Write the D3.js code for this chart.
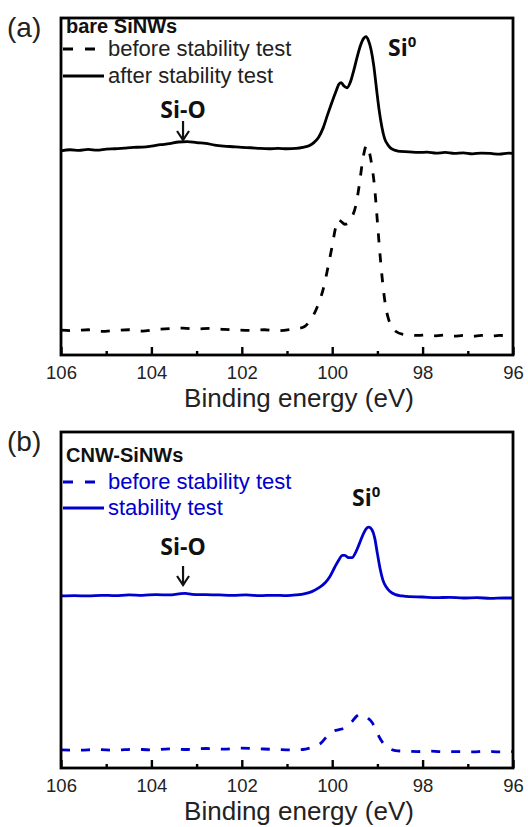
<!DOCTYPE html>
<html>
<head>
<meta charset="utf-8">
<script src="https://cdn.jsdelivr.net/npm/d3@7"></script>
<style>
  body { margin: 0; background: #fff; }
  svg { display: block; }
</style>
</head>
<body>
<div id="chart"></div>
<script>
// ---- data (binding energy eV, intensity a.u.) ----
const majorTicks = [106, 104, 102, 100, 98, 96];
const minorTicks = [105, 103, 101, 99, 97];

// (a) bare SiNWs
const bareAfter = [[106.0,60.6],[105.8,60.9],[105.6,60.7],[105.4,61.0],[105.2,60.8],[105.0,61.1],[104.8,61.2],[104.6,61.4],[104.4,61.6],[104.2,61.7],[104.0,62.0],[103.8,62.4],[103.6,62.7],[103.4,63.2],[103.2,63.3],[103.0,63.0],[102.8,62.8],[102.6,62.3],[102.4,62.0],[102.2,61.8],[102.0,61.6],[101.8,61.5],[101.6,61.3],[101.4,61.2],[101.2,61.3],[101.0,61.2],[100.8,61.3],[100.65,61.6],[100.5,62.2],[100.4,63.1],[100.3,64.6],[100.2,67.4],[100.1,71.4],[100.0,75.2],[99.92,78.1],[99.85,80.4],[99.8,80.8],[99.74,79.8],[99.67,79.3],[99.6,80.9],[99.52,84.6],[99.45,88.3],[99.38,91.6],[99.3,94.0],[99.25,94.5],[99.2,93.4],[99.14,90.6],[99.08,85.8],[99.02,79.0],[98.96,72.5],[98.9,67.6],[98.84,64.2],[98.77,62.4],[98.7,61.3],[98.6,60.7],[98.5,60.4],[98.3,60.3],[98.1,60.1],[97.9,60.2],[97.7,59.9],[97.5,60.1],[97.3,59.8],[97.1,60.0],[96.9,59.7],[96.7,59.9],[96.5,59.8],[96.3,59.6],[96.1,59.9],[96.0,59.8]];
const bareBefore = [[106.0,7.4],[105.7,7.2],[105.4,7.5],[105.1,7.0],[104.8,7.3],[104.5,7.5],[104.2,7.1],[103.9,7.6],[103.6,7.8],[103.3,8.0],[103.0,7.7],[102.7,7.9],[102.4,7.6],[102.1,7.4],[101.8,7.3],[101.5,7.5],[101.2,7.2],[100.9,7.6],[100.75,7.9],[100.62,8.4],[100.5,10.0],[100.4,12.2],[100.3,15.3],[100.2,19.5],[100.1,25.6],[100.0,32.4],[99.93,37.5],[99.87,40.2],[99.8,39.6],[99.72,38.8],[99.64,39.2],[99.56,41.0],[99.48,44.2],[99.4,50.5],[99.33,57.4],[99.27,61.4],[99.23,62.2],[99.18,60.3],[99.12,56.0],[99.06,49.5],[99.0,39.5],[98.94,29.5],[98.88,21.0],[98.82,14.6],[98.75,10.5],[98.67,8.2],[98.58,6.9],[98.45,6.2],[98.3,6.0],[98.1,5.8],[97.9,6.0],[97.7,5.7],[97.5,5.9],[97.3,5.6],[97.1,5.8],[96.9,5.5],[96.7,5.8],[96.5,5.6],[96.3,5.8],[96.0,5.7]];

// (b) CNW-SiNWs
const cnwAfter = [[106.0,51.2],[105.7,51.3],[105.4,51.2],[105.1,51.4],[104.8,51.3],[104.5,51.5],[104.2,51.4],[103.9,51.6],[103.6,51.5],[103.4,51.8],[103.25,52.0],[103.1,51.7],[102.8,51.6],[102.5,51.5],[102.2,51.4],[101.9,51.5],[101.6,51.3],[101.3,51.4],[101.0,51.3],[100.8,51.5],[100.6,51.9],[100.45,52.5],[100.3,53.6],[100.15,55.2],[100.05,57.0],[99.95,59.6],[99.85,62.0],[99.78,63.3],[99.72,63.3],[99.64,62.6],[99.56,62.6],[99.48,64.2],[99.4,66.7],[99.32,69.4],[99.25,71.2],[99.19,71.7],[99.12,70.9],[99.06,68.5],[99.0,63.8],[98.94,59.3],[98.88,56.0],[98.8,53.8],[98.72,52.5],[98.6,51.6],[98.45,51.2],[98.3,51.0],[98.0,50.9],[97.7,50.7],[97.4,50.8],[97.1,50.6],[96.8,50.7],[96.5,50.5],[96.2,50.6],[96.0,50.6]];
const cnwBefore = [[106.0,5.4],[105.6,5.3],[105.2,5.5],[104.8,5.3],[104.4,5.6],[104.0,5.4],[103.6,5.7],[103.2,5.5],[102.8,5.8],[102.4,5.6],[102.0,5.9],[101.6,5.7],[101.2,5.5],[100.9,5.4],[100.65,5.5],[100.5,5.9],[100.35,6.6],[100.25,7.4],[100.15,8.9],[100.05,10.3],[99.95,11.1],[99.85,11.4],[99.75,11.8],[99.65,12.6],[99.55,14.0],[99.47,15.3],[99.4,15.9],[99.32,15.7],[99.22,14.9],[99.12,13.6],[99.04,11.5],[98.95,9.0],[98.85,7.0],[98.75,5.9],[98.6,5.2],[98.4,5.0],[98.1,4.9],[97.8,5.0],[97.5,4.8],[97.2,4.9],[96.9,4.8],[96.6,5.0],[96.3,4.8],[96.0,4.9]];

const siOEnergy = 103.3;

const W = 528, H = 827;
const svg = d3.select("#chart").append("svg")
    .attr("width", W)
    .attr("height", H);

const x = d3.scaleLinear().domain([106, 96]).range([61, 513]);

const panels = [
  { tag: "(a)", title: "bare SiNWs", top: 18, bottom: 355, color: "#000", textColor: "#222",
    before: bareBefore, after: bareAfter, legend: ["before stability test", "after stability test"],
    titleY: 33, leg1Y: 56, leg2Y: 83, siOY: 118, arrowTop: 121, arrowBot: 140, si0X: 388, si0Y: 56 },
  { tag: "(b)", title: "CNW-SiNWs", top: 432, bottom: 768, color: "#0000cc", textColor: "#0000cc",
    before: cnwBefore, after: cnwAfter, legend: ["before stability test", "stability test"],
    titleY: 462, leg1Y: 489, leg2Y: 515, siOY: 555, arrowTop: 566, arrowBot: 585, si0X: 352, si0Y: 506 }
];

panels.forEach(p => {
  const y = d3.scaleLinear().domain([0, 100]).range([p.bottom, p.top]);
  const g = svg.append("g");

  const line = d3.line()
      .x(d => x(d[0]))
      .y(d => y(d[1]))
      .curve(d3.curveMonotoneX);

  g.append("path")
      .datum(p.before)
      .attr("d", line)
      .attr("fill", "none")
      .attr("stroke", p.color)
      .attr("stroke-width", 2.8)
      .attr("stroke-dasharray", "9,11");

  g.append("path")
      .datum(p.after)
      .attr("d", line)
      .attr("fill", "none")
      .attr("stroke", p.color)
      .attr("stroke-width", 2.8)
      .attr("stroke-linejoin", "round");

  // frame
  g.append("rect")
      .attr("x", x(106)).attr("y", p.top)
      .attr("width", x(96) - x(106)).attr("height", p.bottom - p.top)
      .attr("fill", "none").attr("stroke", "#000").attr("stroke-width", 2.8);

  // bottom axis, ticks pointing in
  const ax = g.append("g")
      .attr("transform", `translate(0,${p.bottom})`)
      .call(d3.axisBottom(x).tickValues(majorTicks).tickSize(-8).tickPadding(11).tickFormat(d3.format("d")));
  ax.select(".domain").remove();
  ax.selectAll(".tick line").attr("stroke", "#000").attr("stroke-width", 2.4);
  ax.selectAll(".tick text")
      .attr("font-family", "'Liberation Sans', Arial, sans-serif")
      .attr("font-size", 18.5).attr("fill", "#222");

  const mx = g.append("g")
      .attr("transform", `translate(0,${p.bottom})`)
      .call(d3.axisBottom(x).tickValues(minorTicks).tickSize(-4).tickFormat(""));
  mx.select(".domain").remove();
  mx.selectAll(".tick line").attr("stroke", "#000").attr("stroke-width", 2.4);

  g.append("text")
      .attr("x", 299).attr("y", p.bottom + 52)
      .attr("text-anchor", "middle")
      .attr("font-family", "'Liberation Sans', Arial, sans-serif")
      .attr("font-size", 26).attr("fill", "#222")
      .text("Binding energy (eV)");

  // panel tag
  g.append("text")
      .attr("x", 7).attr("y", p.top + 19)
      .attr("font-family", "'Liberation Sans', Arial, sans-serif")
      .attr("font-size", 28).attr("fill", "#222")
      .text(p.tag);

  // legend
  g.append("text")
      .attr("x", 66).attr("y", p.titleY)
      .attr("font-family", "'Liberation Sans', Arial, sans-serif")
      .attr("font-weight", "bold").attr("font-size", 20).attr("fill", "#111")
      .text(p.title);

  g.append("line")
      .attr("x1", 63).attr("x2", 100)
      .attr("y1", p.leg1Y - 7).attr("y2", p.leg1Y - 7)
      .attr("stroke", p.color).attr("stroke-width", 2.8)
      .attr("stroke-dasharray", "10,12");
  g.append("line")
      .attr("x1", 63).attr("x2", 104)
      .attr("y1", p.leg2Y - 7).attr("y2", p.leg2Y - 7)
      .attr("stroke", p.color).attr("stroke-width", 2.8);

  g.selectAll(".leg")
      .data(p.legend)
      .enter().append("text")
      .attr("x", 108)
      .attr("y", (d, i) => i ? p.leg2Y : p.leg1Y)
      .attr("font-family", "'Liberation Sans', Arial, sans-serif")
      .attr("font-size", 22).attr("fill", p.textColor)
      .text(d => d);

  // peak annotations
  g.append("text")
      .attr("x", x(siOEnergy)).attr("y", p.siOY)
      .attr("text-anchor", "middle")
      .attr("font-family", "'Open Sans', sans-serif")
      .attr("font-weight", "bold").attr("font-size", 23).attr("fill", "#111")
      .text("Si-O");

  const ax0 = x(siOEnergy);
  g.append("line")
      .attr("x1", ax0).attr("x2", ax0)
      .attr("y1", p.arrowTop).attr("y2", p.arrowBot)
      .attr("stroke", "#111").attr("stroke-width", 2.2);
  g.append("path")
      .attr("d", `M${ax0 - 6},${p.arrowBot - 9} L${ax0},${p.arrowBot} L${ax0 + 6},${p.arrowBot - 9}`)
      .attr("fill", "none").attr("stroke", "#111").attr("stroke-width", 2.2);

  const si0 = g.append("text")
      .attr("x", p.si0X).attr("y", p.si0Y)
      .attr("font-family", "'Open Sans', sans-serif")
      .attr("font-weight", "bold").attr("font-size", 23).attr("fill", "#111");
  si0.append("tspan").text("Si");
  si0.append("tspan").attr("dy", -9).attr("font-size", 15).text("0");
});
</script>
</body>
</html>
